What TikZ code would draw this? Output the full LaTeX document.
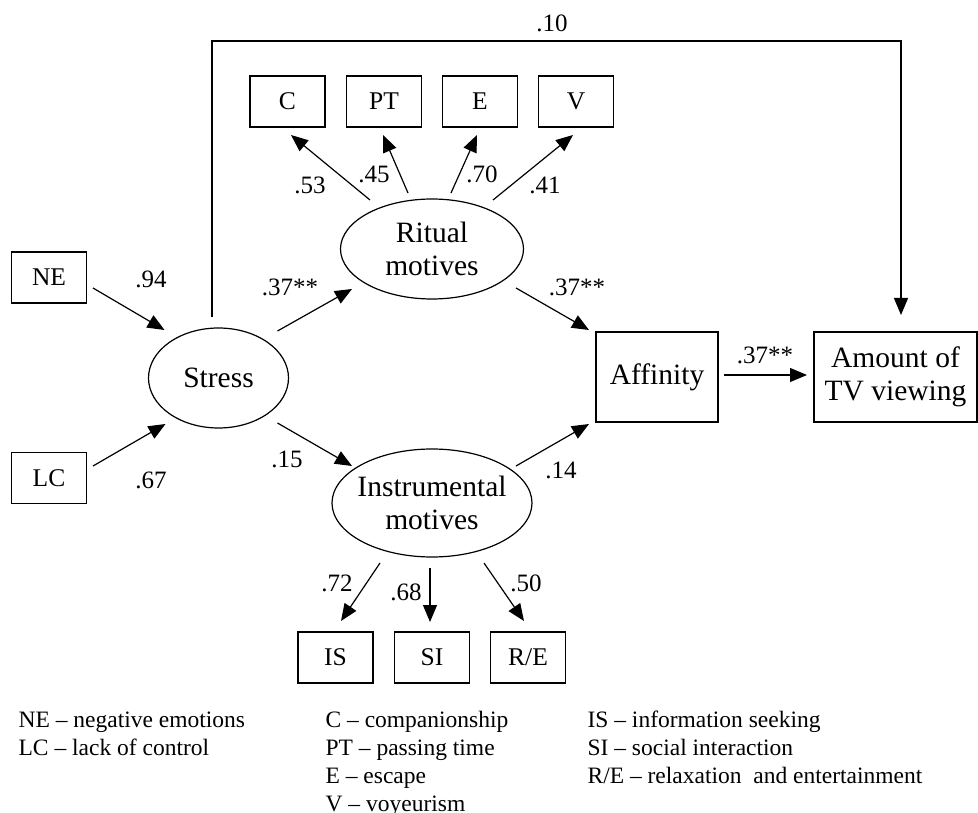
\documentclass[tikz,border=0pt]{standalone}
\usepackage{fontspec}
\setmainfont{Liberation Serif}
\usetikzlibrary{arrows.meta,calc,shapes.geometric}
\tikzset{
  every picture/.style={line width=1.2pt},
  obs/.style={draw,inner sep=0pt,minimum width=75pt,minimum height=51pt,font=\fontsize{25.5}{30}\selectfont},
  big/.style={draw,inner sep=0pt,minimum height=90pt,align=center,font=\fontsize{29.5}{33}\selectfont},
  latent/.style={draw,ellipse,inner sep=0pt},
  inside/.style={align=center,font=\fontsize{29.5}{33}\selectfont},
  coef/.style={inner sep=0pt,font=\fontsize{25}{30}\selectfont},
  arr/.style={-{Triangle[length=17pt,width=14pt]}},
  key/.style={align=left,anchor=base west,inner sep=0pt,font=\fontsize{23.5}{28.2}\selectfont},
}

\begin{document}
\begin{tikzpicture}[x=1pt,y=-1pt]
  \useasboundingbox (0,0) rectangle (978,813);
  % stress and its indicators
  \node[obs] (NE) at (49,277.5) {NE};
  \node[obs] (LC) at (49,478) {LC};
  \node[latent,minimum width=140pt,minimum height=100pt,label={[inside]center:Stress}] (stress) at (218.5,378) {};
  % motives
  \node[latent,minimum width=183pt,minimum height=100pt,label={[inside]center:{Ritual\\motives}}] (ritual) at (432,249) {};
  \node[latent,minimum width=200pt,minimum height=108pt,label={[inside]center:{Instrumental\\motives}}] (instr) at (432,503) {};
  \node[obs] (C) at (287.5,101.5) {C};
  \node[obs] (PT) at (384,101.5) {PT};
  \node[obs] (E) at (480,101.5) {E};
  \node[obs] (V) at (576,101.5) {V};
  \node[obs] (IS) at (335.5,657.5) {IS};
  \node[obs] (SI) at (432,657.5) {SI};
  \node[obs] (RE) at (528,657.5) {R/E};
  % outcomes
  \node[big,minimum width=122pt] (affinity) at (657,377) {Affinity};
  \node[big,minimum width=163pt] (amount) at (895.5,377) {Amount of\\TV viewing};

  \draw[arr] ($(NE)+(44,10.5)$) -- ($(stress)+(-54,-48)$);
  \draw[arr] ($(LC)+(44,-12)$) -- ($(stress)+(-53,46)$);
  \draw[arr] ($(stress)+(59,-47)$) -- ($(ritual)+(-80,40)$);
  \draw[arr] ($(stress)+(59,45)$) -- ($(instr)+(-80,-37)$);
  \draw[arr] ($(ritual)+(-62,-49)$) -- ($(C)+(3.5,33.5)$);
  \draw[arr] ($(ritual)+(-24,-56)$) -- ($(PT)+(-1,33.5)$);
  \draw[arr] ($(ritual)+(19,-56)$) -- ($(E)+(-3,33.5)$);
  \draw[arr] ($(ritual)+(61,-49)$) -- ($(V)+(-3,33.5)$);
  \draw[arr] ($(ritual)+(84,39)$) -- ($(affinity)+(-68,-47)$);
  \draw[arr] ($(instr)+(84,-37)$) -- ($(affinity)+(-68,47)$);
  \draw[arr] ($(affinity)+(67,-2)$) -- ($(amount)+(-88.5,-2)$);
  \draw[arr] ($(instr)+(-52,60)$) -- ($(IS)+(5.5,-36.5)$);
  \draw[arr] ($(instr)+(-2,65)$) -- ($(SI)+(-2,-35.5)$);
  \draw[arr] ($(instr)+(52,60)$) -- ($(RE)+(-4,-36.5)$);
  \draw[arr] ($(stress)+(-6.5,-61)$) -- ++(0,-276) -| ($(amount)+(5.5,-62)$);

  % path coefficients
  \node[coef] (cNE) at (151,279) {.94};
  \node[coef] (cLC) at (151,480) {.67};
  \node[coef] (cSR) at (290,287) {.37**};
  \node[coef] (cSI) at (287,459) {.15};
  \node[coef] (cC) at (310,185) {.53};
  \node[coef] (cPT) at (374,174) {.45};
  \node[coef] (cE) at (482,174) {.70};
  \node[coef] (cV) at (545,185) {.41};
  \node[coef] (cRA) at (577,287) {.37**};
  \node[coef] (cIA) at (561,470) {.14};
  \node[coef] (cAA) at (765,355) {.37**};
  \node[coef] (cSA) at (552,23) {.10};
  \node[coef] (cIS) at (337,583) {.72};
  \node[coef] (cSII) at (406,592) {.68};
  \node[coef] (cRE) at (526,583) {.50};

  % legend (base = last line)
  \node[key] (keyA) at (18,755.2) {NE -- negative emotions\\LC -- lack of control};
  \node[key] (keyB) at (325,811.6) {C -- companionship\\PT -- passing time\\E -- escape\\V -- voyeurism};
  \node[key] (keyC) at (587,783.4) {IS -- information seeking\\SI -- social interaction\\R/E -- relaxation\ \ and entertainment};
\end{tikzpicture}
\end{document}
